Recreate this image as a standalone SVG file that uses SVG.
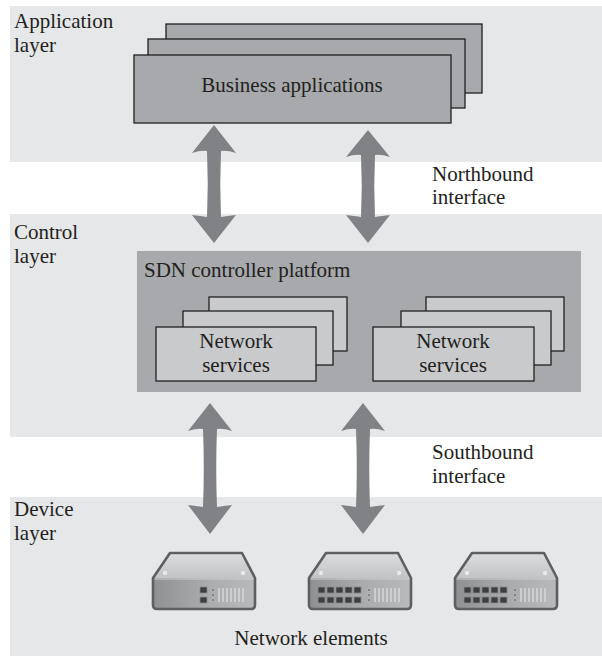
<svg xmlns="http://www.w3.org/2000/svg" width="602" height="656" viewBox="0 0 602 656">
  <defs>
    <style>
      .band { fill: #e6e7e8; }
      .lbl { font-family: "Liberation Serif", "Times New Roman", serif; font-size: 21px; fill: #231f20; }
      .ctr { text-anchor: middle; }
      .app { fill: #a7a9ac; stroke: #231f20; stroke-width: 1.3; }
      .svc { fill: #c9cacc; stroke: #231f20; stroke-width: 1.3; }
      .platform { fill: #a7a9ac; }
      .arrow { fill: #808285; }
      .dev-outline { fill: none; stroke: #5e5f61; stroke-width: 2.6; stroke-linejoin: round; }
      .port { fill: #3d3e40; stroke: #8a8b8d; stroke-width: 0.8; }
      .led { fill: #7b7c7e; stroke: #c5c6c8; stroke-width: 0.6; }
      .vent { stroke: #d9dadb; stroke-width: 1.4; }
      .hole { fill: #e8e9ea; }
    </style>
    <linearGradient id="topFace" x1="0" y1="0" x2="0" y2="1">
      <stop offset="0" stop-color="#dcdddf"/>
      <stop offset="1" stop-color="#c2c3c5"/>
    </linearGradient>
    <linearGradient id="frontFace" x1="0" y1="0" x2="1" y2="0">
      <stop offset="0" stop-color="#8f9092"/>
      <stop offset="0.5" stop-color="#a9aaac"/>
      <stop offset="1" stop-color="#b9babc"/>
    </linearGradient>
    <!-- network device body, local origin at top-left of its bounding box (102 x 56) -->
    <g id="device">
      <path d="M17,0 L89,0 L102,25 L0,25 Z" fill="url(#topFace)"/>
      <rect x="0" y="25" width="102" height="30" fill="url(#frontFace)"/>
      <path d="M0,26 L102,26" stroke="#d0d1d3" stroke-width="1"/>
      <circle class="hole" cx="12" cy="20" r="2.2"/>
      <circle class="hole" cx="90" cy="20" r="2.2"/>
      <path class="dev-outline" d="M17,0 L89,0 L102,25 L102,52 Q102,56 98,56 L4,56 Q0,56 0,52 L0,25 Z"/>
      <g class="vent">
        <line x1="66" y1="35" x2="66" y2="49"/>
        <line x1="70" y1="35" x2="70" y2="49"/>
        <line x1="74" y1="35" x2="74" y2="49"/>
        <line x1="78" y1="35" x2="78" y2="49"/>
        <line x1="82" y1="35" x2="82" y2="49"/>
        <line x1="86" y1="35" x2="86" y2="49"/>
        <line x1="90" y1="35" x2="90" y2="49"/>
      </g>
      <circle class="led" cx="60" cy="37" r="1.6"/>
      <circle class="led" cx="60" cy="42" r="1.6"/>
      <circle class="led" cx="60" cy="47" r="1.6"/>
    </g>
    <!-- one RJ45-style port -->
    <rect id="port" class="port" width="7" height="6"/>
  </defs>

  <!-- layer bands -->
  <g id="bands">
    <rect class="band" x="10" y="6" width="592" height="156"/>
    <rect class="band" x="10" y="214" width="592" height="223"/>
    <rect class="band" x="10" y="497" width="592" height="159"/>
  </g>

  <!-- layer labels -->
  <g id="layer-labels">
    <text class="lbl" x="14" y="28">Application</text>
    <text class="lbl" x="14" y="52">layer</text>
    <text class="lbl" x="14" y="239">Control</text>
    <text class="lbl" x="14" y="263">layer</text>
    <text class="lbl" x="14" y="516">Device</text>
    <text class="lbl" x="14" y="540">layer</text>
  </g>

  <!-- application layer -->
  <g id="business-applications">
    <rect class="app" x="166" y="24" width="316" height="69"/>
    <rect class="app" x="148" y="39" width="317" height="69"/>
    <rect class="app" x="134" y="55" width="317" height="68"/>
    <text class="lbl ctr" x="292" y="92">Business applications</text>
  </g>

  <!-- control layer -->
  <g id="sdn-controller">
    <rect class="platform" x="137" y="251" width="444" height="141"/>
    <text class="lbl" x="144" y="277">SDN controller platform</text>
  </g>
  <g id="network-services-1">
    <rect class="svc" x="209" y="297" width="138" height="54"/>
    <rect class="svc" x="183" y="311" width="150" height="54"/>
    <rect class="svc" x="156" y="327" width="160" height="54"/>
    <text class="lbl ctr" x="236" y="348">Network</text>
    <text class="lbl ctr" x="236" y="372">services</text>
  </g>
  <g id="network-services-2">
    <rect class="svc" x="426" y="297" width="138" height="54"/>
    <rect class="svc" x="401" y="311" width="150" height="54"/>
    <rect class="svc" x="373" y="327" width="161" height="54"/>
    <text class="lbl ctr" x="453" y="348">Network</text>
    <text class="lbl ctr" x="453" y="372">services</text>
  </g>

  <!-- interface labels -->
  <g id="interface-labels">
    <text class="lbl" x="432" y="181">Northbound</text>
    <text class="lbl" x="432" y="204">interface</text>
    <text class="lbl" x="432" y="459">Southbound</text>
    <text class="lbl" x="432" y="483">interface</text>
  </g>

  <!-- connectors: double-headed block arrows -->
  <g id="connectors" class="arrow">
    <path transform="translate(214,0)" d="M0,125 L22,153 Q13,150 7,151 Q5.5,184 7,217 Q13,216 22,215 L0,243 L-22,215 Q-13,216 -7,217 Q-5.5,184 -7,151 Q-13,150 -22,153 Z"/>
    <path transform="translate(368,0)" d="M0,130 L22,157 Q13,154 7,155 Q5.5,186 7,217 Q13,216 22,215 L0,243 L-22,215 Q-13,216 -7,217 Q-5.5,186 -7,155 Q-13,154 -22,157 Z"/>
    <path transform="translate(210,0)" d="M0,403 L22,431 Q13,428 7,429 Q5.5,468 7,507 Q13,506 22,505 L0,534 L-22,505 Q-13,506 -7,507 Q-5.5,468 -7,429 Q-13,428 -22,431 Z"/>
    <path transform="translate(363,0)" d="M0,403 L22,431 Q13,428 7,429 Q5.5,468 7,507 Q13,506 22,505 L0,534 L-22,505 Q-13,506 -7,507 Q-5.5,468 -7,429 Q-13,428 -22,431 Z"/>
  </g>

  <!-- device layer: network elements -->
  <g id="network-element-1" transform="translate(153,553)">
    <use href="#device"/>
    <use href="#port" x="47" y="34"/>
    <use href="#port" x="47" y="44"/>
  </g>
  <g id="network-element-2" transform="translate(309,553)">
    <use href="#device"/>
    <use href="#port" x="9" y="34"/>
    <use href="#port" x="18" y="34"/>
    <use href="#port" x="27" y="34"/>
    <use href="#port" x="36" y="34"/>
    <use href="#port" x="45" y="34"/>
    <use href="#port" x="9" y="44"/>
    <use href="#port" x="18" y="44"/>
    <use href="#port" x="27" y="44"/>
    <use href="#port" x="36" y="44"/>
    <use href="#port" x="45" y="44"/>
  </g>
  <g id="network-element-3" transform="translate(455,553)">
    <use href="#device"/>
    <use href="#port" x="9" y="34"/>
    <use href="#port" x="18" y="34"/>
    <use href="#port" x="27" y="34"/>
    <use href="#port" x="36" y="34"/>
    <use href="#port" x="45" y="34"/>
    <use href="#port" x="9" y="44"/>
    <use href="#port" x="18" y="44"/>
    <use href="#port" x="27" y="44"/>
    <use href="#port" x="36" y="44"/>
    <use href="#port" x="45" y="44"/>
  </g>
  <text class="lbl ctr" x="311" y="645">Network elements</text>
</svg>
